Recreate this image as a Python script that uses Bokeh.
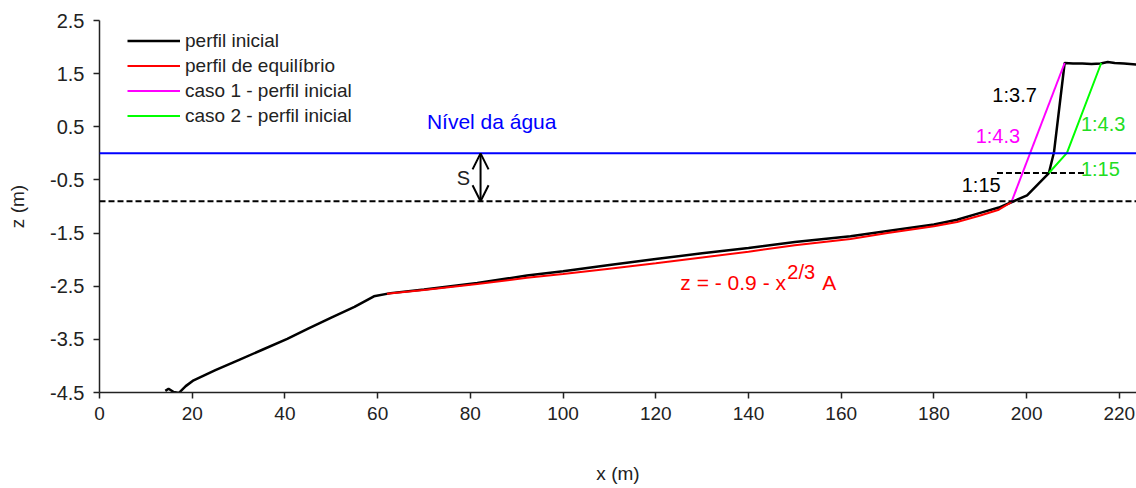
from bokeh.plotting import figure
from bokeh.models import (Span, Arrow, OpenHead, FixedTicker, Legend, LegendItem,
                          ColumnDataSource, Label)
from bokeh.embed import file_html
from bokeh.resources import INLINE
from bokeh.core.properties import value

# ---------------- data ----------------
x_initial = [14.2, 14.9, 16.0, 17.1, 18.6, 20.3, 25.0, 30.0, 35.0, 40.5, 45.0, 50.0, 55.0,
             59.2, 62.8, 70.0, 81.5, 92.2, 100.0, 110.0, 120.0, 130.0, 140.0, 150.0,
             162.0, 170.0, 180.0, 185.0, 190.0, 194.0, 196.7, 200.1, 204.8, 205.9,
             208.2, 210.0, 212.0, 214.0, 216.0, 217.5, 219.0, 221.0, 223.7]
z_initial = [-4.47, -4.43, -4.49, -4.51, -4.38, -4.27, -4.08, -3.89, -3.70, -3.49, -3.30,
             -3.09, -2.89, -2.69, -2.63, -2.56, -2.44, -2.30, -2.22, -2.10, -1.99, -1.88,
             -1.78, -1.67, -1.56, -1.46, -1.34, -1.25, -1.12, -1.02, -0.92, -0.79, -0.37,
             0.02, 1.70, 1.69, 1.69, 1.68, 1.69, 1.72, 1.70, 1.69, 1.67]

x_equil = [62.0, 70.0, 81.5, 92.2, 100.0, 110.0, 120.0, 130.0, 140.0, 150.0, 162.0,
           170.0, 180.0, 185.0, 190.0, 194.0, 196.7]
z_equil = [-2.64, -2.57, -2.46, -2.34, -2.27, -2.17, -2.07, -1.96, -1.85, -1.73, -1.61,
           -1.50, -1.37, -1.29, -1.17, -1.06, -0.92]

x_case1 = [196.7, 208.2]
z_case1 = [-0.92, 1.70]

x_case2 = [204.8, 208.7, 216.1]
z_case2 = [-0.37, 0.01, 1.70]

x_berm = [193.6, 212.7]
z_berm = [-0.37, -0.37]

water_level = 0.0
setup_level = -0.9
setup_arrow_x = 82.2

x_ticks = [0, 20, 40, 60, 80, 100, 120, 140, 160, 180, 200, 220]
z_ticks = [-4.5, -3.5, -2.5, -1.5, -0.5, 0.5, 1.5, 2.5]

legend_labels = ["perfil inicial", "perfil de equilíbrio",
                 "caso 1 - perfil inicial", "caso 2 - perfil inicial"]

slope_x = [197.4, 193.8, 216.5, 215.9, 190.2]
slope_z = [1.09, 0.32, 0.55, -0.29, -0.59]
slope_text = ["1:3.7", "1:4.3", "1:4.3", "1:15", "1:15"]
slope_color = ["#000000", "#ff00ff", "#22dd22", "#22dd22", "#000000"]

FONT = "Liberation Sans"

# ---------------- figure ----------------
p = figure(width=1136, height=488, x_range=(0, 223.7), y_range=(-4.5, 2.5),
           output_backend="svg", toolbar_location=None,
           min_border_left=99, min_border_right=0, min_border_top=20, min_border_bottom=96)
p.outline_line_color = None
p.xgrid.visible = False
p.ygrid.visible = False
p.background_fill_color = "white"

for ax in (p.xaxis[0], p.yaxis[0]):
    ax.axis_line_color = "#222222"
    ax.axis_line_width = 1.5
    ax.major_tick_line_color = "#222222"
    ax.major_tick_line_width = 1.5
    ax.major_tick_out = 6
    ax.major_tick_in = 0
    ax.minor_tick_line_color = None
    ax.major_label_text_font = FONT
    ax.major_label_text_font_size = "19px"
    ax.major_label_text_color = "#222222"
    ax.axis_label_text_font = FONT
    ax.axis_label_text_font_size = "19px"
    ax.axis_label_text_font_style = "normal"
    ax.axis_label_text_color = "#222222"

p.yaxis.major_label_text_font_size = "20px"
p.xaxis.ticker = FixedTicker(ticks=x_ticks)
p.yaxis.ticker = FixedTicker(ticks=z_ticks)
p.xaxis.major_label_overrides = {t: str(t) for t in x_ticks}
p.yaxis.major_label_overrides = {t: str(t) for t in z_ticks}
p.xaxis.axis_label = "x (m)"
p.yaxis.axis_label = "z (m)"
p.xaxis.major_label_standoff = 8
p.yaxis.major_label_standoff = 9
p.xaxis.axis_label_standoff = 40
p.yaxis.axis_label_standoff = 19

# reference levels
p.add_layout(Span(location=water_level, dimension="width", line_color="#0000ff", line_width=2))
p.add_layout(Span(location=setup_level, dimension="width", line_color="black",
                  line_width=2, line_dash="6 3"))
p.line(x_berm, z_berm, line_color="black", line_width=2, line_dash="6 3")

# profiles
r_init = p.line(x_initial, z_initial, line_color="black", line_width=2.5)
r_eq = p.line(x_equil, z_equil, line_color="#ff0000", line_width=2)
r_c1 = p.line(x_case1, z_case1, line_color="#ff00ff", line_width=2)
r_c2 = p.line(x_case2, z_case2, line_color="#00ff00", line_width=2)

legend = Legend(items=[LegendItem(label=lab, renderers=[r])
                       for lab, r in zip(legend_labels, [r_init, r_eq, r_c1, r_c2])],
                location=(28, 264), padding=0, margin=0, spacing=0,
                glyph_width=53, glyph_height=25, label_height=25, label_standoff=5,
                label_text_font=FONT, label_text_font_size="19px",
                label_text_color="#222222",
                background_fill_alpha=0, border_line_alpha=0)
p.add_layout(legend)

# set-up arrow
p.add_layout(Arrow(start=OpenHead(size=16, line_width=2, line_color="black"),
                   end=OpenHead(size=16, line_width=2, line_color="black"),
                   x_start=setup_arrow_x, y_start=water_level,
                   x_end=setup_arrow_x, y_end=setup_level,
                   line_width=2, line_color="black"))
p.add_layout(Label(x=78.5, y=-0.47, text="S", text_font=FONT, text_font_size="20px",
                   text_color="#222222", text_align="center", text_baseline="middle"))

# water level label
p.add_layout(Label(x=84.6, y=0.60, text="Nível da água", text_font=FONT,
                   text_font_size="21px", text_color="#0000ff",
                   text_align="center", text_baseline="middle"))

# slope labels
src = ColumnDataSource(dict(x=slope_x, y=slope_z, text=slope_text, color=slope_color))
p.text(x="x", y="y", text="text", text_color="color", source=src,
       text_font=value(FONT), text_font_size="20px",
       text_align="center", text_baseline="middle")

# equation
eq_x, eq_z = 125.3, -2.43
p.add_layout(Label(x=eq_x, y=eq_z, text="z = - 0.9 - x", text_font=FONT,
                   text_font_size="21px", text_color="#ff0000",
                   text_align="left", text_baseline="alphabetic"))
p.add_layout(Label(x=eq_x, y=eq_z, x_offset=107, y_offset=10, text="2/3", text_font=FONT,
                   text_font_size="20px", text_color="#ff0000",
                   text_align="left", text_baseline="alphabetic"))
p.add_layout(Label(x=eq_x, y=eq_z, x_offset=142, text="A", text_font=FONT,
                   text_font_size="21px", text_color="#ff0000",
                   text_align="left", text_baseline="alphabetic"))

open("out.html", "w").write(file_html(p, INLINE))
